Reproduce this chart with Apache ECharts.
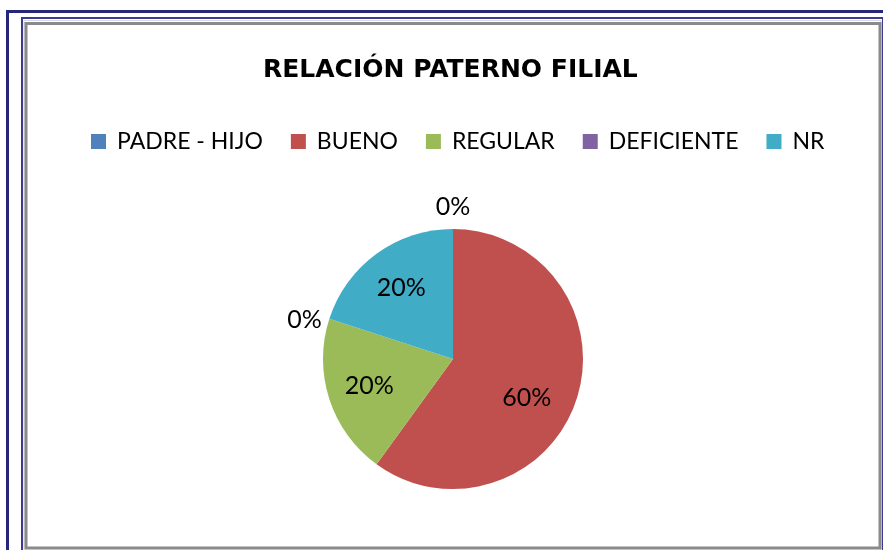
<!DOCTYPE html>
<html>
<head>
<meta charset="utf-8">
<script src="https://cdn.jsdelivr.net/npm/echarts@6/dist/echarts.min.js"></script>
<style>
html,body{margin:0;padding:0;background:#fff;}
#chart{width:883px;height:550px;}
</style>
</head>
<body>
<div id="chart"></div>
<script>
const titleText = 'RELACIÓN PATERNO FILIAL';
const categories = ['PADRE - HIJO', 'BUENO', 'REGULAR', 'DEFICIENTE', 'NR'];
const values = [0, 60, 20, 0, 20];
const colors = ['#4F81BD', '#C0504D', '#9BBB59', '#8064A2', '#40ACC6'];

const font = 'Lato, "Open Sans", sans-serif';
const total = values.reduce((a, b) => a + b, 0);
const pct = v => Math.round(v / total * 100) + '%';

const chart = echarts.init(document.getElementById('chart'));

const mainData = categories.map((n, i) => ({ name: n, value: values[i], itemStyle: { color: colors[i] } }));
const innerLabelData = categories.map((n, i) => ({
  name: n, value: values[i],
  label: { show: values[i] > 0 }
}));
const outerLabelData = categories.map((n, i) => ({
  name: n, value: values[i],
  label: { show: values[i] === 0 }
}));

const center = [453, 359];
const R = 130;

const commonTransparent = {
  type: 'pie',
  center: center,
  startAngle: 90,
  clockwise: true,
  silent: true,
  animation: false,
  avoidLabelOverlap: false,
  itemStyle: { color: 'rgba(0,0,0,0)', borderWidth: 0 },
  emphasis: { disabled: true },
  labelLine: { show: false },
  legendHoverLink: false,
  tooltip: { show: false }
};

chart.setOption({
  backgroundColor: '#ffffff',
  animation: false,
  title: {
    text: titleText,
    left: 258,
    top: 53,
    textStyle: { fontFamily: '"DejaVu Sans", "Open Sans", sans-serif', fontSize: 25, fontWeight: 'bold', color: '#000' }
  },
  legend: {
    data: categories,
    top: 125,
    left: 86,
    itemWidth: 15,
    itemHeight: 15,
    itemGap: 28,
    icon: 'rect',
    textStyle: { fontFamily: font, fontSize: 23, color: '#000', padding: [0, 0, 0, 6] }
  },
  graphic: [
    { type: 'rect', shape: { x: 7.5, y: 11.5, width: 920, height: 600 }, style: { fill: 'none', stroke: '#26267a', lineWidth: 3 }, silent: true },
    { type: 'rect', shape: { x: 22, y: 18, width: 861, height: 600 }, style: { fill: 'none', stroke: '#3a3a90', lineWidth: 2 }, silent: true },
    { type: 'rect', shape: { x: 24, y: 20.5, width: 857, height: 540 }, style: { fill: 'none', stroke: '#d8d8e0', lineWidth: 1 }, silent: true },
    { type: 'rect', shape: { x: 26, y: 23.5, width: 854, height: 524.5 }, style: { fill: 'none', stroke: '#8a8a8a', lineWidth: 3 }, silent: true }
  ],
  series: [
    {
      type: 'pie',
      center: center,
      radius: R,
      startAngle: 90,
      clockwise: true,
      animation: false,
      data: mainData,
      label: { show: false },
      labelLine: { show: false },
      itemStyle: { borderWidth: 0 }
    },
    Object.assign({}, commonTransparent, {
      radius: [0, 170],
      data: innerLabelData,
      label: {
        position: 'inside',
        formatter: p => pct(p.value),
        fontFamily: font, fontSize: 25, color: '#000'
      },
      labelLayout: p => (p.dataIndex === 1 ? { dx: -10, dy: 12 } : {})
    }),
    Object.assign({}, commonTransparent, {
      radius: [140, 166],
      data: outerLabelData,
      label: {
        position: 'inside',
        formatter: p => pct(p.value),
        fontFamily: font, fontSize: 25, color: '#000'
      },
      labelLayout: p => (p.dataIndex === 3 ? { dy: 9 } : { dy: 4 })
    })
  ]
});
</script>
</body>
</html>
